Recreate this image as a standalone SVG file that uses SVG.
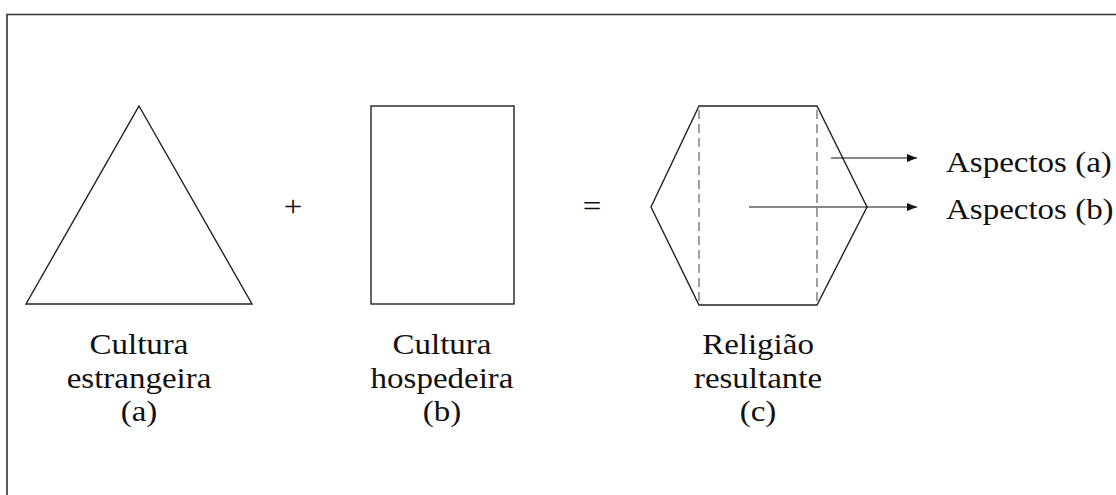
<svg xmlns="http://www.w3.org/2000/svg" width="1116" height="495" viewBox="0 0 1116 495">
  <style>
    .shape { fill: none; stroke: #222; stroke-width: 1.4; stroke-linejoin: miter; }
    .dash { fill: none; stroke: #777; stroke-width: 1.4; stroke-dasharray: 9 5; }
    .conn { fill: none; stroke: #111; stroke-width: 1.2; }
    .lbl { font-family: "Liberation Serif", "Times New Roman", serif; font-size: 30px; fill: #111; }
    .mid { text-anchor: middle; }
  </style>
  <defs>
    <marker id="arrow" markerWidth="10" markerHeight="8" refX="10" refY="4" orient="auto" markerUnits="userSpaceOnUse">
      <path d="M0,0 L10,4 L0,8 Z" fill="#111"/>
    </marker>
  </defs>
  <rect width="1116" height="495" fill="#fff"/>
  <!-- frame: only top and left edges fall inside the canvas -->
  <path d="M7,495 V14.5 H1116" fill="none" stroke="#333" stroke-width="1.6"/>

  <!-- labels use a slightly widened serif (scale 1.1 in x) -->
  <g id="triangle-a">
    <polygon class="shape" points="139,106 252,304 26,304"/>
    <text class="lbl mid" transform="translate(139,354) scale(1.1,1)">Cultura</text>
    <text class="lbl mid" transform="translate(139,388) scale(1.1,1)">estrangeira</text>
    <text class="lbl mid" transform="translate(139,421) scale(1.1,1)">(a)</text>
  </g>

  <g id="plus">
    <text class="lbl mid" transform="translate(293,216) scale(1.1,1)">+</text>
  </g>

  <g id="rect-b">
    <rect class="shape" x="371" y="106" width="143" height="198"/>
    <text class="lbl mid" transform="translate(442,354) scale(1.1,1)">Cultura</text>
    <text class="lbl mid" transform="translate(442,388) scale(1.1,1)">hospedeira</text>
    <text class="lbl mid" transform="translate(442,421) scale(1.1,1)">(b)</text>
  </g>

  <g id="equals">
    <text class="lbl mid" transform="translate(592,216) scale(1.1,1)">=</text>
  </g>

  <g id="hexagon-c">
    <polygon class="shape" points="699,106 817,106 867,207 817,305 699,305 651,207"/>
    <line class="dash" x1="699" y1="110" x2="699" y2="301"/>
    <line class="dash" x1="817" y1="110" x2="817" y2="301"/>
    <text class="lbl mid" transform="translate(758,354) scale(1.1,1)">Religião</text>
    <text class="lbl mid" transform="translate(758,388) scale(1.1,1)">resultante</text>
    <text class="lbl mid" transform="translate(758,421) scale(1.1,1)">(c)</text>
  </g>

  <g id="aspect-a">
    <text class="lbl" transform="translate(946,172) scale(1.1,1)">Aspectos (a)</text>
  </g>
  <g id="aspect-b">
    <text class="lbl" transform="translate(946,219) scale(1.1,1)">Aspectos (b)</text>
  </g>

  <g id="connectors">
    <line class="conn" x1="831" y1="158" x2="917" y2="158" marker-end="url(#arrow)"/>
    <line class="conn" x1="749" y1="207" x2="917" y2="207" marker-end="url(#arrow)"/>
  </g>
</svg>
